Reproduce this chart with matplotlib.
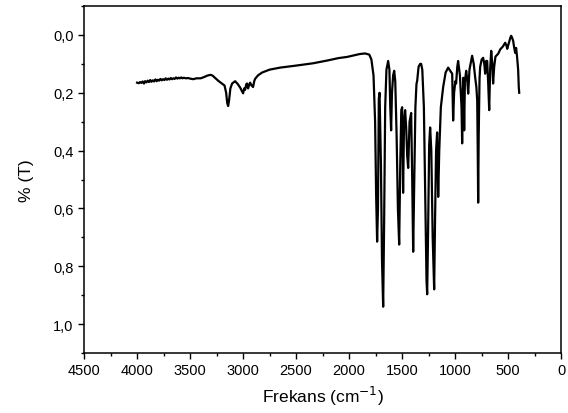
import matplotlib
matplotlib.use("Agg")
import matplotlib.pyplot as plt
from matplotlib.ticker import MultipleLocator, FuncFormatter

# IR spectrum (wavenumber, transmittance value)
wavenumber = [
    4000, 3985, 3972, 3960, 3948, 3935, 3925, 3912, 3900, 3888, 3876, 3865,
    3852, 3840, 3828, 3815, 3805, 3792, 3780, 3768, 3755, 3742, 3730, 3718,
    3705, 3694, 3682, 3670, 3658, 3645, 3633, 3620, 3608, 3596, 3584, 3572,
    3560, 3540, 3520, 3500,
    3470, 3440, 3400, 3370, 3340, 3310, 3290, 3260, 3236, 3200, 3175, 3160,
    3150, 3141, 3132, 3120, 3104, 3075, 3050, 3028, 3010, 3000, 2990, 2981,
    2970, 2962, 2953, 2945, 2934, 2920, 2906, 2895, 2887, 2860, 2821, 2750,
    2651, 2500, 2340, 2200, 2100, 2019, 1950, 1900, 1850, 1810, 1790, 1770,
    1755, 1745, 1736, 1728, 1720, 1713, 1700, 1690, 1679, 1670, 1660, 1648,
    1632, 1620, 1612, 1604, 1596, 1585, 1575, 1565, 1552, 1540, 1528, 1518,
    1508, 1500, 1491, 1482, 1472, 1462, 1452, 1443, 1430, 1415, 1405, 1396,
    1388, 1375, 1365, 1358, 1345, 1330, 1321, 1310, 1295, 1280, 1270, 1264,
    1256, 1245, 1236, 1225, 1212, 1198, 1190, 1180, 1170, 1165, 1160, 1150,
    1135, 1113, 1090, 1066, 1045, 1028, 1019, 1010, 998, 991, 980, 972,
    955, 940, 934, 928, 922, 915, 908, 896, 887, 877, 865, 840,
    825, 811, 800, 792, 787, 783, 778, 770, 764, 750, 736, 725,
    717, 708, 698, 688, 679, 670, 660, 650, 642, 632, 620, 594,
    575, 550, 528, 515, 509, 495, 480, 472, 465, 453, 445, 434,
    425, 415, 406, 400, 396,
]
transmittance = [
    0.165, 0.167, 0.163, 0.166, 0.161, 0.168, 0.160, 0.164, 0.158, 0.163, 0.156, 0.162,
    0.157, 0.161, 0.154, 0.160, 0.155, 0.158, 0.152, 0.157, 0.153, 0.156, 0.150, 0.155,
    0.151, 0.154, 0.149, 0.153, 0.150, 0.152, 0.147, 0.151, 0.148, 0.150, 0.147, 0.150,
    0.148, 0.150, 0.149, 0.151,
    0.153, 0.150, 0.150, 0.146, 0.141, 0.138, 0.140, 0.150, 0.158, 0.168, 0.175, 0.200,
    0.235, 0.246, 0.225, 0.185, 0.168, 0.160, 0.170, 0.182, 0.195, 0.202, 0.185, 0.190,
    0.170, 0.168, 0.185, 0.175, 0.165, 0.175, 0.180, 0.160, 0.152, 0.140, 0.130, 0.120,
    0.113, 0.106, 0.098, 0.088, 0.080, 0.076, 0.070, 0.066, 0.064, 0.068, 0.085, 0.140,
    0.300, 0.560, 0.715, 0.600, 0.220, 0.200, 0.450, 0.780, 0.940, 0.650, 0.250, 0.120,
    0.090, 0.120, 0.250, 0.330, 0.200, 0.140, 0.124, 0.160, 0.350, 0.600, 0.725, 0.450,
    0.260, 0.250, 0.546, 0.300, 0.260, 0.320, 0.420, 0.460, 0.300, 0.270, 0.500, 0.750,
    0.550, 0.250, 0.170, 0.158, 0.110, 0.100, 0.100, 0.120, 0.250, 0.600, 0.850, 0.897,
    0.700, 0.380, 0.320, 0.400, 0.700, 0.880, 0.650, 0.400, 0.337, 0.450, 0.560, 0.400,
    0.250, 0.180, 0.130, 0.113, 0.125, 0.134, 0.296, 0.200, 0.160, 0.168, 0.110, 0.090,
    0.140, 0.250, 0.375, 0.200, 0.148, 0.330, 0.160, 0.124, 0.150, 0.203, 0.120, 0.072,
    0.100, 0.148, 0.180, 0.227, 0.400, 0.580, 0.350, 0.150, 0.110, 0.085, 0.079, 0.100,
    0.134, 0.090, 0.090, 0.170, 0.260, 0.120, 0.055, 0.100, 0.168, 0.110, 0.075, 0.065,
    0.050, 0.040, 0.027, 0.038, 0.048, 0.030, 0.010, 0.003, 0.008, 0.020, 0.040, 0.062,
    0.045, 0.080, 0.120, 0.180, 0.200,
]

plt.rcParams['font.family'] = ['Liberation Sans', 'DejaVu Sans']

fig = plt.figure(figsize=(5.68, 4.14), dpi=100)
ax = fig.add_axes([0.148, 0.145, 0.840, 0.838])

ax.plot(wavenumber, transmittance, color='black', lw=1.6)

ax.set_xlim(4500, 0)
ax.set_ylim(1.1, -0.1)
ax.xaxis.set_major_locator(MultipleLocator(500))
ax.xaxis.set_minor_locator(MultipleLocator(250))
ax.yaxis.set_major_locator(MultipleLocator(0.2))
ax.yaxis.set_minor_locator(MultipleLocator(0.1))
ax.yaxis.set_major_formatter(FuncFormatter(lambda v, p: ('%.1f' % v).replace('.', ',')))

ax.tick_params(which='major', direction='out', length=4, width=1, labelsize=10.5)
ax.tick_params(which='minor', direction='out', length=2.5, width=1)
for s in ax.spines.values():
    s.set_linewidth(1.1)

ax.set_xlabel('Frekans (cm$^{-1}$)', fontsize=12.5, labelpad=5)
ax.set_ylabel('% (T)', fontsize=12.5, labelpad=14)

fig.savefig('out.png', dpi=100)
